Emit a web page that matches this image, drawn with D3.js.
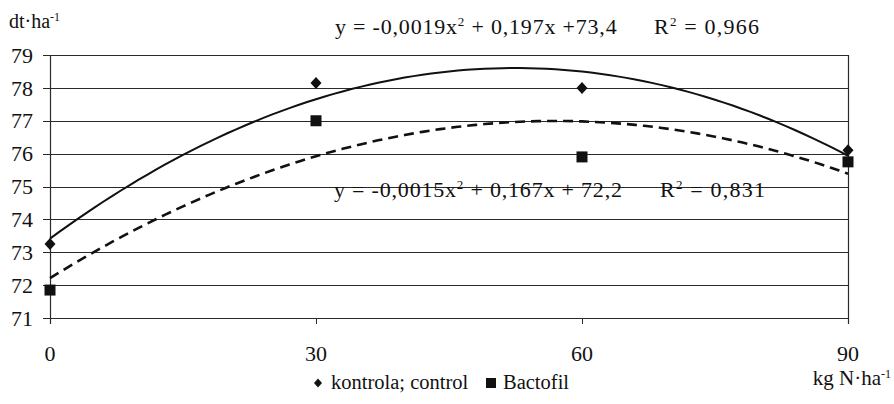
<!DOCTYPE html>
<meta charset="utf-8">
<style>
  body { margin: 0; background: #fff; }
</style>
<body>
<script src="https://cdn.jsdelivr.net/npm/d3@7"></script>
<script>
    var width = 894,
        height = 404;

    // data
    var doses = [0, 30, 60, 90];                 // kg N/ha
    var kontrola = [73.25, 78.15, 78.0, 76.1];    // dt/ha
    var bactofil = [71.85, 77.0, 75.9, 75.75];    // dt/ha
    var yTicks = [71, 72, 73, 74, 75, 76, 77, 78, 79];
    var xTicks = [0, 30, 60, 90];

    var eqKontrola = ["y = -0,0019x", "2", " + 0,197x +73,4"],
        r2Kontrola = "0,966";
    var eqBactofil = ["y = -0,0015x", "2", " + 0,167x + 72,2"],
        r2Bactofil = "0,831";

    var x = d3.scaleLinear().domain([0, 90]).range([50, 848]);
    var y = d3.scaleLinear().domain([71, 79]).range([318, 55]);

    var svg = d3.select('body')
        .append('svg')
        .attr('width', width)
        .attr('height', height)
        .style('font-family', "'Liberation Serif', 'Times New Roman', serif")
        .attr('fill', '#111');

    // horizontal grid
    svg.append('g')
        .selectAll('line')
        .data(yTicks)
        .enter().append('line')
        .attr('x1', x(0) - 7)
        .attr('x2', x(90))
        .attr('y1', d => Math.round(y(d)) + 0.5)
        .attr('y2', d => Math.round(y(d)) + 0.5)
        .attr('stroke', '#2a2a2a')
        .attr('stroke-width', 1);

    // left axis and right border
    [0, 90].forEach(function (v) {
        svg.append('line')
            .attr('x1', Math.round(x(v)) + 0.5).attr('x2', Math.round(x(v)) + 0.5)
            .attr('y1', y(79)).attr('y2', y(71) + 6)
            .attr('stroke', '#2a2a2a').attr('stroke-width', 1.2);
    });

    // x ticks
    svg.append('g')
        .selectAll('line')
        .data(xTicks)
        .enter().append('line')
        .attr('x1', d => Math.round(x(d)) + 0.5)
        .attr('x2', d => Math.round(x(d)) + 0.5)
        .attr('y1', y(71))
        .attr('y2', y(71) + 6)
        .attr('stroke', '#2a2a2a');

    // y tick labels
    svg.append('g')
        .selectAll('text')
        .data(yTicks)
        .enter().append('text')
        .attr('x', 33)
        .attr('y', d => y(d))
        .attr('dy', '0.35em')
        .attr('text-anchor', 'end')
        .attr('font-size', 22)
        .text(d => d);

    // x tick labels
    svg.append('g')
        .selectAll('text')
        .data(xTicks)
        .enter().append('text')
        .attr('x', d => x(d))
        .attr('y', 361)
        .attr('text-anchor', 'middle')
        .attr('font-size', 22)
        .text(d => d);

    // axis titles
    var yt = svg.append('text').attr('x', 9).attr('y', 28).attr('font-size', 20);
    yt.append('tspan').text('dt·ha');
    yt.append('tspan').attr('dy', -7).attr('font-size', 12).text('-1');

    var xt = svg.append('text').attr('x', 891).attr('y', 385)
        .attr('text-anchor', 'end').attr('font-size', 21);
    xt.append('tspan').text('kg N·ha');
    xt.append('tspan').attr('dy', -7).attr('font-size', 12).text('-1');

    // least squares quadratic fit
    function quadFit(xs, ys) {
        var n = xs.length, s = [0, 0, 0, 0, 0], t = [0, 0, 0];
        for (var i = 0; i < n; i++) {
            for (var k = 0; k < 5; k++) s[k] += Math.pow(xs[i], k);
            for (var k = 0; k < 3; k++) t[k] += ys[i] * Math.pow(xs[i], k);
        }
        var A = [[s[0], s[1], s[2], t[0]], [s[1], s[2], s[3], t[1]], [s[2], s[3], s[4], t[2]]];
        for (var c = 0; c < 3; c++) {
            for (var r = c + 1; r < 3; r++) {
                var f = A[r][c] / A[c][c];
                for (var j = c; j < 4; j++) A[r][j] -= f * A[c][j];
            }
        }
        var b = [0, 0, 0];
        for (var r = 2; r >= 0; r--) {
            var sum = A[r][3];
            for (var j = r + 1; j < 3; j++) sum -= A[r][j] * b[j];
            b[r] = sum / A[r][r];
        }
        return v => b[0] + b[1] * v + b[2] * v * v;
    }

    var fitK = quadFit(doses, kontrola),
        fitB = quadFit(doses, bactofil);
    var samples = d3.range(0, 90.001, 1);
    var line = d3.line().x(d => x(d[0])).y(d => y(d[1]));

    svg.append('path')
        .datum(samples.map(v => [v, fitK(v)]))
        .attr('d', line)
        .attr('fill', 'none')
        .attr('stroke', '#111')
        .attr('stroke-width', 2);

    svg.append('path')
        .datum(samples.map(v => [v, fitB(v)]))
        .attr('d', line)
        .attr('fill', 'none')
        .attr('stroke', '#111')
        .attr('stroke-width', 2.6)
        .attr('stroke-dasharray', '10,6');

    // markers
    var diamond = 'M0,-6L5.5,0L0,6L-5.5,0Z';
    svg.append('g')
        .selectAll('path')
        .data(doses.map((d, i) => [d, kontrola[i]]))
        .enter().append('path')
        .attr('d', diamond)
        .attr('transform', d => `translate(${x(d[0])},${y(d[1])})`)
        .attr('fill', '#111');

    svg.append('g')
        .selectAll('rect')
        .data(doses.map((d, i) => [d, bactofil[i]]))
        .enter().append('rect')
        .attr('x', d => x(d[0]) - 5.5)
        .attr('y', d => y(d[1]) - 5.5)
        .attr('width', 11)
        .attr('height', 11)
        .attr('fill', '#111');

    // equations
    function equation(px, py, parts, r2x, r2) {
        var t = svg.append('text').attr('x', px).attr('y', py)
            .attr('font-size', 22).attr('letter-spacing', 0.8);
        t.append('tspan').text(parts[0]);
        t.append('tspan').attr('dy', -8).attr('font-size', 13).text(parts[1]);
        t.append('tspan').attr('dy', 8).text(parts[2]);
        var r = svg.append('text').attr('x', r2x).attr('y', py)
            .attr('font-size', 22).attr('letter-spacing', 1.2);
        r.append('tspan').text('R');
        r.append('tspan').attr('dy', -8).attr('font-size', 13).text('2');
        r.append('tspan').attr('dy', 8).text(' = ' + r2);
    }
    equation(335, 34, eqKontrola, 654, r2Kontrola);
    equation(334, 197, eqBactofil, 660, r2Bactofil);

    // legend
    var lg = svg.append('g');
    lg.append('path').attr('d', 'M0,-4.5L4,0L0,4.5L-4,0Z')
        .attr('transform', 'translate(318,383)').attr('fill', '#111');
    lg.append('text').attr('x', 331).attr('y', 389).attr('font-size', 20.5).text('kontrola; control');
    lg.append('rect').attr('x', 486).attr('y', 378).attr('width', 10).attr('height', 10).attr('fill', '#111');
    lg.append('text').attr('x', 503).attr('y', 389).attr('font-size', 20.5).text('Bactofil');
</script>
</body>
</html>
